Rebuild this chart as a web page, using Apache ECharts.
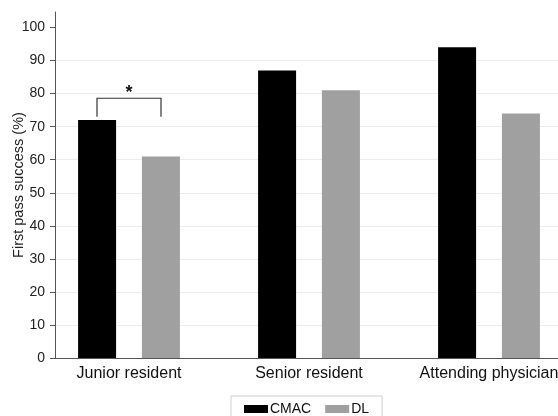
<!DOCTYPE html>
<html>
<head>
<meta charset="utf-8">
<script src="https://cdn.jsdelivr.net/npm/echarts@6/dist/echarts.min.js"></script>
<style>
  html, body { margin: 0; padding: 0; background: #fff; }
  #chart { width: 558px; height: 416px; }
</style>
</head>
<body>
<div id="chart"></div>
<script>
const categories = ['Junior resident', 'Senior resident', 'Attending physician'];
const cmacValues = [72, 87, 94];
const dlValues = [61, 81, 74];
const yTicks = [0, 10, 20, 30, 40, 50, 60, 70, 80, 90, 100];
// significance bracket: [category index, bracket top, leg bottom, star y]
const bracket = [[0, 78.6, 73, 81.3]];

const yMax = 104.7; // axis runs a bit above 100
const font = 'Liberation Sans, Arial, sans-serif';

const chart = echarts.init(document.getElementById('chart'), null, { renderer: 'canvas' });

const options = {
  animation: false,
  textStyle: { fontFamily: font },
  grid: [
    // bars: band layout shifted so groups sit where the figure has them
    { left: 39, right: -21, top: 12, bottom: 58, outerBoundsMode: 'none', containLabel: false },
    // frame: axis lines, ticks, gridlines
    { left: 55, right: 0, top: 12, bottom: 58, outerBoundsMode: 'none', containLabel: false }
  ],
  legend: {
    data: ['CMAC', 'DL'],
    left: 231,
    top: 396,
    icon: 'rect',
    itemWidth: 24,
    itemHeight: 8,
    itemGap: 14,
    padding: [6, 13, 8, 13],
    borderColor: '#cfcfcf',
    borderWidth: 1,
    textStyle: { fontSize: 14, color: '#111', fontFamily: font, padding: [0, 0, 0, -3] }
  },
  xAxis: [
    {
      type: 'category',
      gridIndex: 0,
      data: categories,
      axisLine: { show: false },
      axisTick: { show: false },
      axisLabel: { interval: 0, fontSize: 16, color: '#111', margin: 8, fontFamily: font }
    },
    {
      type: 'value',
      gridIndex: 1,
      min: 0,
      max: 1,
      axisLine: { show: true, onZero: false, lineStyle: { color: '#555', width: 1 } },
      axisTick: { show: false },
      axisLabel: { show: false },
      splitLine: { show: false }
    }
  ],
  yAxis: [
    { type: 'value', gridIndex: 0, min: 0, max: yMax, show: false },
    {
      type: 'value',
      gridIndex: 1,
      min: 0,
      max: yMax,
      interval: 10,
      name: 'First pass success (%)',
      nameLocation: 'middle',
      nameGap: 29,
      nameMoveOverlap: false,
      nameTextStyle: { fontSize: 14.5, color: '#222', fontFamily: font },
      axisLine: { show: true, lineStyle: { color: '#555', width: 1 } },
      axisTick: { show: true, length: 5, customValues: yTicks, lineStyle: { color: '#555' } },
      axisLabel: { fontSize: 14, color: '#222', margin: 10, customValues: yTicks, fontFamily: font },
      splitLine: { show: true, showMaxLine: false, lineStyle: { color: '#ececec', width: 1 } }
    }
  ],
  series: [
    {
      name: 'CMAC',
      type: 'bar',
      xAxisIndex: 0,
      yAxisIndex: 0,
      data: cmacValues,
      barWidth: 38,
      barGap: '68%',
      itemStyle: { color: '#000' }
    },
    {
      name: 'DL',
      type: 'bar',
      xAxisIndex: 0,
      yAxisIndex: 0,
      data: dlValues,
      barWidth: 38,
      itemStyle: { color: '#a0a0a0' }
    },
    {
      type: 'custom',
      xAxisIndex: 0,
      yAxisIndex: 0,
      data: bracket,
      z: 5,
      renderItem: function (params, api) {
        const half = 32; // offset from category centre to each bar centre
        const top = api.coord([api.value(0), api.value(1)]);
        const leg = api.coord([api.value(0), api.value(2)]);
        const star = api.coord([api.value(0), api.value(3)]);
        const x1 = top[0] - half, x2 = top[0] + half;
        return {
          type: 'group',
          children: [
            {
              type: 'polyline',
              shape: { points: [[x1, leg[1]], [x1, top[1]], [x2, top[1]], [x2, leg[1]]] },
              style: { stroke: '#333', lineWidth: 1.2, fill: null }
            },
            {
              type: 'text',
              style: {
                text: '*', x: star[0], y: star[1] + 4,
                fontSize: 18, fontWeight: 'bold', fill: '#111',
                align: 'center', verticalAlign: 'middle', fontFamily: font
              }
            }
          ]
        };
      }
    }
  ]
};

chart.setOption(options);
</script>
</body>
</html>
